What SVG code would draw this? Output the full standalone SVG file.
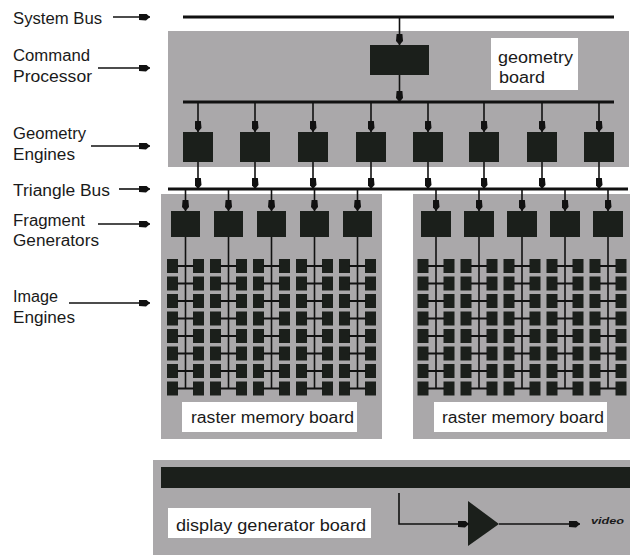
<svg xmlns="http://www.w3.org/2000/svg" width="630" height="555" viewBox="0 0 630 555">
<style>
.board{fill:#aaa8aa}
.box{fill:#1b1f1b}
.lbl{fill:#fff}
.bus{stroke:#111;stroke-width:3;fill:none}
.ln{stroke:#111;stroke-width:1.6;fill:none}
.ie{stroke:#111;stroke-width:2;fill:none}
.arr{stroke:#111;stroke-width:1.6;fill:none;marker-end:url(#ah)}
text{font-family:"Liberation Sans",Arial,sans-serif;font-size:16px;fill:#1a1a1a}
.vid{font-size:9px;font-style:italic;font-weight:bold}
</style>
<defs>
<marker id="ah" viewBox="0 0 11 7" markerWidth="11" markerHeight="7" refX="11" refY="3.5" orient="auto" markerUnits="userSpaceOnUse">
<path d="M0,0.6 L7,0 L11,3.5 L7,7 L0,6.4 Z" fill="#111"/>
</marker>
<g id="iecol">
<line class="ln" x1="0" y1="237" x2="0" y2="389"/>
<g class="box">
<rect x="-18.5" y="259" width="11" height="14"/><rect x="7.5" y="259" width="11" height="14"/>
<rect x="-18.5" y="276.5" width="11" height="14"/><rect x="7.5" y="276.5" width="11" height="14"/>
<rect x="-18.5" y="294" width="11" height="14"/><rect x="7.5" y="294" width="11" height="14"/>
<rect x="-18.5" y="311.5" width="11" height="14"/><rect x="7.5" y="311.5" width="11" height="14"/>
<rect x="-18.5" y="329" width="11" height="14"/><rect x="7.5" y="329" width="11" height="14"/>
<rect x="-18.5" y="346.5" width="11" height="14"/><rect x="7.5" y="346.5" width="11" height="14"/>
<rect x="-18.5" y="364" width="11" height="14"/><rect x="7.5" y="364" width="11" height="14"/>
<rect x="-18.5" y="381.5" width="11" height="14"/><rect x="7.5" y="381.5" width="11" height="14"/>
</g>
<g class="ie">
<line x1="-8" y1="266" x2="8" y2="266"/><line x1="-8" y1="283.5" x2="8" y2="283.5"/>
<line x1="-8" y1="301" x2="8" y2="301"/><line x1="-8" y1="318.5" x2="8" y2="318.5"/>
<line x1="-8" y1="336" x2="8" y2="336"/><line x1="-8" y1="353.5" x2="8" y2="353.5"/>
<line x1="-8" y1="371" x2="8" y2="371"/><line x1="-8" y1="388.5" x2="8" y2="388.5"/>
</g>
</g>
</defs>

<!-- boards -->
<g id="geometry-board">
<rect class="board" x="168" y="31" width="461" height="136"/>
<rect class="lbl" x="491" y="38" width="87" height="52"/>
<text x="498" y="63" textLength="75" lengthAdjust="spacingAndGlyphs">geometry</text>
<text x="499" y="83" textLength="46" lengthAdjust="spacingAndGlyphs">board</text>
</g>
<g id="raster-board-left">
<rect class="board" x="161" y="194" width="221" height="245"/>
<rect class="lbl" x="182" y="402" width="175" height="30"/>
<text x="191" y="423" textLength="163" lengthAdjust="spacingAndGlyphs">raster memory board</text>
</g>
<g id="raster-board-right">
<rect class="board" x="413" y="194" width="217" height="245"/>
<rect class="lbl" x="434" y="402" width="173" height="30"/>
<text x="442" y="423" textLength="162" lengthAdjust="spacingAndGlyphs">raster memory board</text>
</g>
<g id="display-board">
<rect class="board" x="153" y="460" width="477" height="95"/>
<rect class="box" x="161" y="467" width="469" height="21"/>
<rect class="lbl" x="168" y="508" width="203" height="30"/>
<text x="176" y="531" textLength="190" lengthAdjust="spacingAndGlyphs">display generator board</text>
</g>

<!-- left labels -->
<g id="labels">
<text x="13" y="24" textLength="89" lengthAdjust="spacingAndGlyphs">System Bus</text>
<text x="13" y="61" textLength="77" lengthAdjust="spacingAndGlyphs">Command</text>
<text x="13" y="82" textLength="79" lengthAdjust="spacingAndGlyphs">Processor</text>
<text x="13" y="139" textLength="73" lengthAdjust="spacingAndGlyphs">Geometry</text>
<text x="13" y="160" textLength="62" lengthAdjust="spacingAndGlyphs">Engines</text>
<text x="13" y="196" textLength="97" lengthAdjust="spacingAndGlyphs">Triangle Bus</text>
<text x="13" y="226" textLength="72" lengthAdjust="spacingAndGlyphs">Fragment</text>
<text x="13" y="246" textLength="86" lengthAdjust="spacingAndGlyphs">Generators</text>
<text x="13" y="302" textLength="45" lengthAdjust="spacingAndGlyphs">Image</text>
<text x="13" y="323" textLength="62" lengthAdjust="spacingAndGlyphs">Engines</text>
</g>

<!-- nodes -->
<g id="command-processor"><rect class="box" x="370" y="45" width="59" height="30"/></g>
<g id="geometry-engines" class="box">
<rect x="183" y="132" width="30" height="30"/>
<rect x="240" y="132" width="30" height="30"/>
<rect x="298" y="132" width="30" height="30"/>
<rect x="356" y="132" width="30" height="30"/>
<rect x="413" y="132" width="30" height="30"/>
<rect x="469" y="132" width="30" height="30"/>
<rect x="527" y="132" width="30" height="30"/>
<rect x="584" y="132" width="30" height="30"/>
</g>
<g id="fragment-generators" class="box">
<rect x="171" y="211" width="29" height="26"/>
<rect x="214" y="211" width="29" height="26"/>
<rect x="257" y="211" width="29" height="26"/>
<rect x="300" y="211" width="29" height="26"/>
<rect x="343" y="211" width="29" height="26"/>
<rect x="421" y="211" width="30" height="26"/>
<rect x="464" y="211" width="30" height="26"/>
<rect x="507" y="211" width="30" height="26"/>
<rect x="550" y="211" width="30" height="26"/>
<rect x="593" y="211" width="30" height="26"/>
</g>
<g id="image-engines">
<use href="#iecol" x="185.5"/>
<use href="#iecol" x="228.5"/>
<use href="#iecol" x="271.5"/>
<use href="#iecol" x="314.5"/>
<use href="#iecol" x="357.5"/>
<use href="#iecol" x="436"/>
<use href="#iecol" x="479"/>
<use href="#iecol" x="522"/>
<use href="#iecol" x="565"/>
<use href="#iecol" x="608"/>
</g>
<g id="amplifier">
<polygon class="box" points="468,501 499,524 468,546"/>
<text class="vid" x="591" y="524" textLength="33" lengthAdjust="spacingAndGlyphs">video</text>
</g>

<!-- connectors -->
<g id="connectors">
<line class="bus" x1="183" y1="17" x2="614" y2="17"/>
<line class="bus" x1="183" y1="102" x2="614" y2="102"/>
<line class="bus" x1="168" y1="189" x2="628" y2="189"/>
<line class="arr" x1="113" y1="17" x2="150" y2="17"/>
<line class="arr" x1="98" y1="68" x2="150" y2="68"/>
<line class="arr" x1="91" y1="146" x2="150" y2="146"/>
<line class="arr" x1="119" y1="189" x2="150" y2="189"/>
<line class="arr" x1="98" y1="224" x2="150" y2="224"/>
<line class="arr" x1="69" y1="303" x2="150" y2="303"/>
<line class="arr" x1="399.5" y1="18" x2="399.5" y2="45"/>
<line class="arr" x1="399.5" y1="75" x2="399.5" y2="102"/>
<line class="arr" x1="198" y1="103" x2="198" y2="132"/>
<line class="arr" x1="255" y1="103" x2="255" y2="132"/>
<line class="arr" x1="313" y1="103" x2="313" y2="132"/>
<line class="arr" x1="371" y1="103" x2="371" y2="132"/>
<line class="arr" x1="428" y1="103" x2="428" y2="132"/>
<line class="arr" x1="484" y1="103" x2="484" y2="132"/>
<line class="arr" x1="542" y1="103" x2="542" y2="132"/>
<line class="arr" x1="599" y1="103" x2="599" y2="132"/>
<line class="arr" x1="198" y1="162" x2="198" y2="189"/>
<line class="arr" x1="255" y1="162" x2="255" y2="189"/>
<line class="arr" x1="313" y1="162" x2="313" y2="189"/>
<line class="arr" x1="371" y1="162" x2="371" y2="189"/>
<line class="arr" x1="428" y1="162" x2="428" y2="189"/>
<line class="arr" x1="484" y1="162" x2="484" y2="189"/>
<line class="arr" x1="542" y1="162" x2="542" y2="189"/>
<line class="arr" x1="599" y1="162" x2="599" y2="189"/>
<line class="arr" x1="185.5" y1="190" x2="185.5" y2="211"/>
<line class="arr" x1="228.5" y1="190" x2="228.5" y2="211"/>
<line class="arr" x1="271.5" y1="190" x2="271.5" y2="211"/>
<line class="arr" x1="314.5" y1="190" x2="314.5" y2="211"/>
<line class="arr" x1="357.5" y1="190" x2="357.5" y2="211"/>
<line class="arr" x1="436" y1="190" x2="436" y2="211"/>
<line class="arr" x1="479" y1="190" x2="479" y2="211"/>
<line class="arr" x1="522" y1="190" x2="522" y2="211"/>
<line class="arr" x1="565" y1="190" x2="565" y2="211"/>
<line class="arr" x1="608" y1="190" x2="608" y2="211"/>
<polyline class="arr" points="399,493 399,524 469,524"/>
<line class="arr" x1="499" y1="524" x2="580" y2="524"/>
</g>
</svg>
